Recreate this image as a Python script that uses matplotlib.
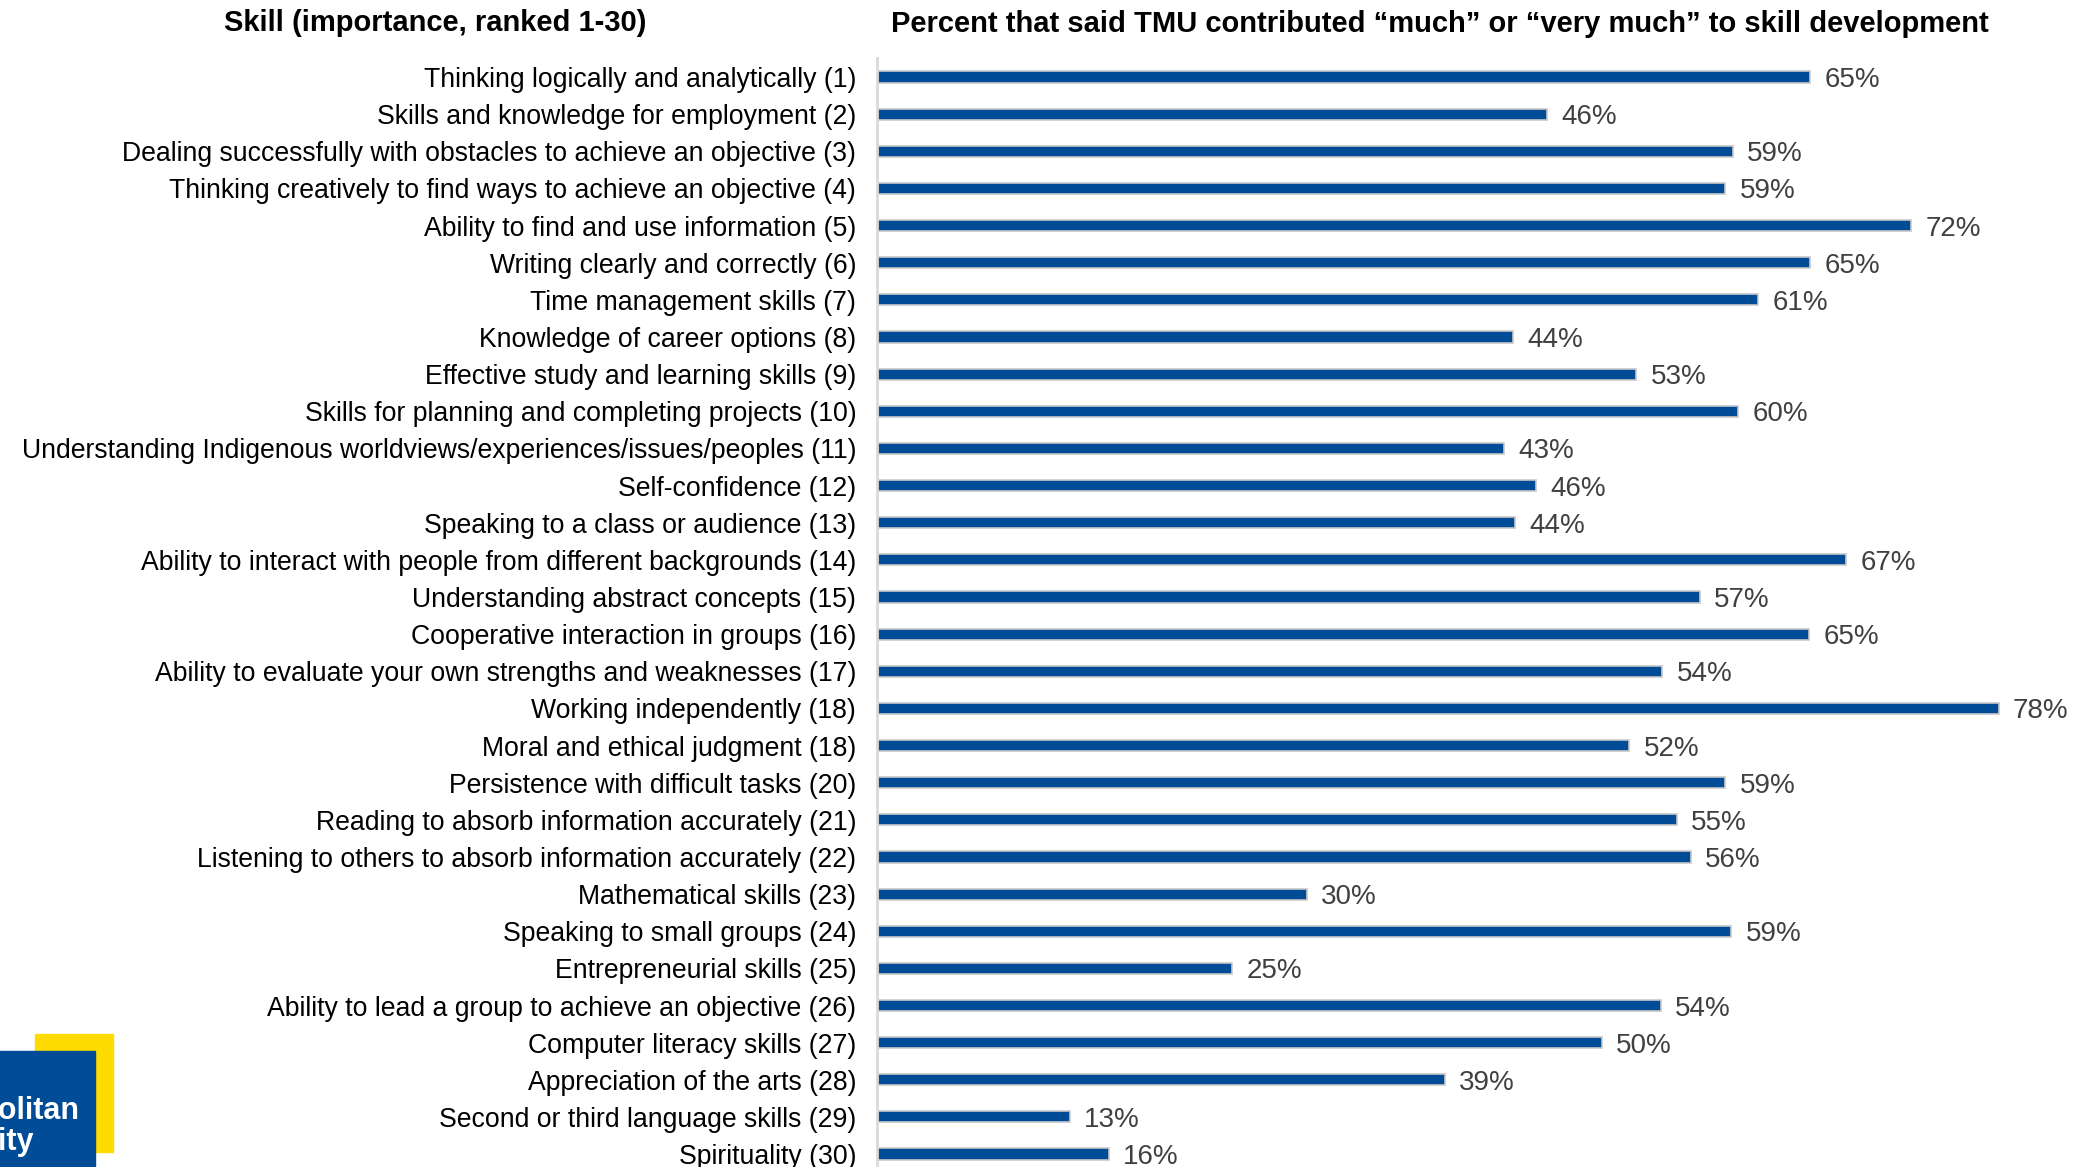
import matplotlib.pyplot as plt
from matplotlib.patches import Rectangle

# Etiquetas das habilidades (ordem de importancia)
skills = [
    "Thinking logically and analytically (1)",
    "Skills and knowledge for employment (2)",
    "Dealing successfully with obstacles to achieve an objective (3)",
    "Thinking creatively to find ways to achieve an objective (4)",
    "Ability to find and use information (5)",
    "Writing clearly and correctly (6)",
    "Time management skills (7)",
    "Knowledge of career options (8)",
    "Effective study and learning skills (9)",
    "Skills for planning and completing projects (10)",
    "Understanding Indigenous worldviews/experiences/issues/peoples (11)",
    "Self-confidence (12)",
    "Speaking to a class or audience (13)",
    "Ability to interact with people from different backgrounds (14)",
    "Understanding abstract concepts (15)",
    "Cooperative interaction in groups (16)",
    "Ability to evaluate your own strengths and weaknesses (17)",
    "Working independently (18)",
    "Moral and ethical judgment (18)",
    "Persistence with difficult tasks (20)",
    "Reading to absorb information accurately (21)",
    "Listening to others to absorb information accurately (22)",
    "Mathematical skills (23)",
    "Speaking to small groups (24)",
    "Entrepreneurial skills (25)",
    "Ability to lead a group to achieve an objective (26)",
    "Computer literacy skills (27)",
    "Appreciation of the arts (28)",
    "Second or third language skills (29)",
    "Spirituality (30)",
]

# Percentual (comprimento da barra)
percent = [64.9, 46.6, 59.5, 59.0, 71.9, 64.9, 61.3, 44.2, 52.8, 59.9,
           43.6, 45.8, 44.4, 67.4, 57.2, 64.8, 54.6, 78.0, 52.3, 59.0,
           55.6, 56.6, 29.9, 59.4, 24.7, 54.5, 50.4, 39.5, 13.4, 16.1]

# Rotulos mostrados ao lado das barras
labels = ["65%", "46%", "59%", "59%", "72%", "65%", "61%", "44%", "53%", "60%",
          "43%", "46%", "44%", "67%", "57%", "65%", "54%", "78%", "52%", "59%",
          "55%", "56%", "30%", "59%", "25%", "54%", "50%", "39%", "13%", "16%"]

title_left = "Skill (importance, ranked 1-30)"
title_right = "Percent that said TMU contributed \u201cmuch\u201d or \u201cvery much\u201d to skill development"

plt.rcParams['font.family'] = ['Liberation Sans', 'DejaVu Sans']

W, H = 2080, 1167
fig = plt.figure(figsize=(W / 100, H / 100), dpi=100)

# Geometria em pixels
x0 = 877
px_per_pct = 14.38
row = 37.14
top = 77 - row / 2
xmax = 80
ax = fig.add_axes([x0 / W, 0, xmax * px_per_pct / W, (H - top) / H])
ax.set_xlim(0, xmax)
ax.set_ylim((H - top) / row - 0.5, -0.5)

y = list(range(len(skills)))
ax.barh(y, percent, height=0.3, color='#004C97', edgecolor='#C8C8C8', linewidth=1.2)

for i, v in enumerate(percent):
    ax.text(v + 1.0, i, labels[i], va='center_baseline', ha='left', fontsize=20, color='#404040')

ax.set_yticks(y)
ax.set_yticklabels(skills, fontsize=19.2, color='black')
ax.tick_params(axis='y', length=0, pad=15)
ax.set_xticks([])
for s in ['top', 'right', 'bottom']:
    ax.spines[s].set_visible(False)
ax.spines['left'].set_color('#D9D9D9')
ax.spines['left'].set_linewidth(2)

fig.text(646 / W, 1 - 23 / H, title_left, ha='right', va='center',
         fontsize=21, fontweight='bold')
fig.text(891 / W, 1 - 24 / H, title_right, ha='left', va='center',
         fontsize=21, fontweight='bold')

# Logo no canto inferior esquerdo (cortado pela borda)
fig.patches.append(Rectangle((35 / W, (H - 1152) / H), 78 / W, 118 / H,
                             transform=fig.transFigure, color='#FFDC00', zorder=1))
fig.patches.append(Rectangle((0, 0), 95 / W, (H - 1051) / H,
                             transform=fig.transFigure, color='#004C97', zorder=2))
fig.text(79 / W, 1 - 1111 / H, "Metropolitan", ha='right', va='center',
         fontsize=22, fontweight='bold', color='white', zorder=3)
fig.text(34 / W, 1 - 1142 / H, "University", ha='right', va='center',
         fontsize=22, fontweight='bold', color='white', zorder=3)

fig.savefig('out.png', dpi=100)
